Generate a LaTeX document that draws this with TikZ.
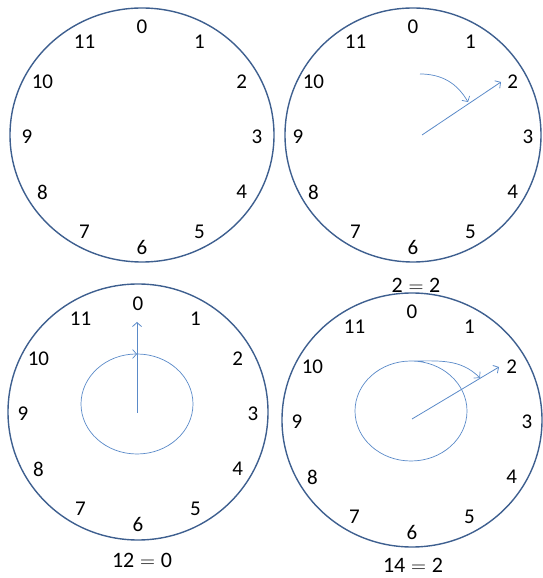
\documentclass[tikz,border=0pt]{standalone}
\usepackage{fontspec}
\setmainfont{Carlito}
\usetikzlibrary{arrows.meta,calc}
\definecolor{rim}{HTML}{3E5F8F}
\definecolor{handc}{HTML}{5A8AC8}
\tikzset{
  rimline/.style={draw=rim, line width=1.4pt},
  num/.style={font=\fontsize{21}{24}\selectfont, inner sep=0pt},
  eqn/.style={font=\fontsize{22}{25}\selectfont, inner sep=0pt},
  tip/.style={-{Straight Barb[length=4pt,width=9pt]}},
  handline/.style={tip, draw=handc, line width=0.8pt},
  turn/.style={draw=handc, line width=0.7pt},
}

\begin{document}
\begin{tikzpicture}[x=1pt,y=1pt]
    \useasboundingbox (0,0) rectangle (542,578);
    % clock centres
    \coordinate (c1) at (142,443);
    \coordinate (c2) at (413,443);
    \coordinate (c3) at (138,166);
    \coordinate (c4) at (412,158);
    \draw[rimline] (c1) ellipse [x radius=132, y radius=127];
    \draw[rimline] (c2) ellipse [x radius=128, y radius=127];
    \draw[rimline] (c3) ellipse [x radius=130, y radius=128];
    \draw[rimline] (c4) ellipse [x radius=130, y radius=127];
    \foreach \c in {1,2,3,4} {
      \foreach \k in {0,...,11}
        \node[num] (n\c-\k) at ($(c\c)+(0,-2)+({90-30*\k}:115 and 110)$) {\k};
    }
    % 2 = 2
    \coordinate (h2) at (422,443);
    \coordinate (t2) at (501,496);
    \coordinate (s2) at (420,504);
    \coordinate (e2) at (468,476);
    \draw[handline] (h2) -- (t2);
    \draw[turn, tip] (s2) to[out=0, in=120] (e2);
    % 12 = 0
    \coordinate (h3) at (137,165);
    \coordinate (t3) at (137,256);
    \coordinate (l3) at (137,224);
    \draw[handline] (h3) -- (t3);
    \draw[turn, tip] (l3) arc[start angle=90, end angle=-270, x radius=56, y radius=50];
    % 14 = 2
    \coordinate (h4) at (412,159);
    \coordinate (t4) at (499,211);
    \coordinate (l4) at (411,217);
    \coordinate (e4) at (480,200);
    \draw[handline] (h4) -- (t4);
    \draw[turn, tip] (l4) arc[start angle=90, end angle=-270, x radius=56, y radius=50]
      to[out=0, in=135] (e4);
    \node[eqn] (q2) at (416,293) {2$\;=\;$2};
    \node[eqn] (q3) at (142,18) {12$\;=\;$0};
    \node[eqn] (q4) at (413,13) {14$\;=\;$2};
\end{tikzpicture}
\end{document}
